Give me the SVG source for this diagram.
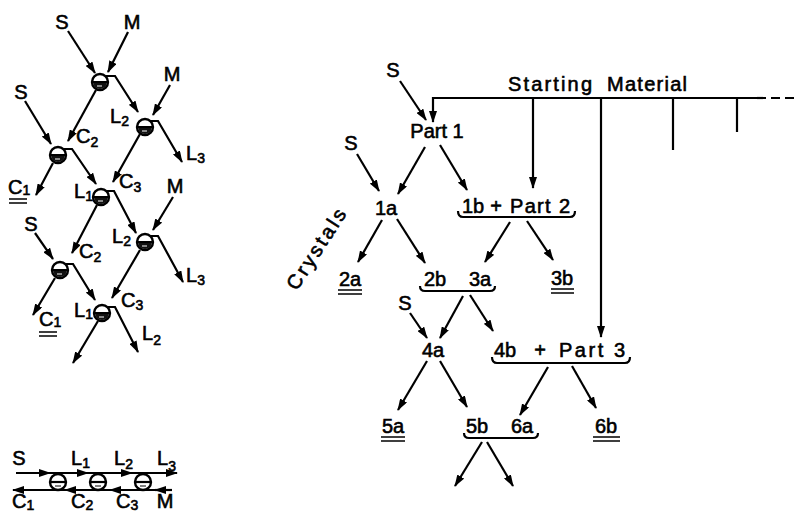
<svg xmlns="http://www.w3.org/2000/svg" width="799" height="514" viewBox="0 0 799 514">
  <defs>
    <marker id="ah" viewBox="0 0 12 8" refX="11" refY="4" markerWidth="12" markerHeight="8" markerUnits="userSpaceOnUse" orient="auto">
      <path d="M0,0 L12,4 L0,8 Z" fill="#000"/>
    </marker>
    <!-- mixer-settler stage symbol -->
    <g id="stage">
      <circle r="8" fill="#fff" stroke="#000" stroke-width="2.4"/>
      <path d="M-7,0 A7,7 0 0 0 7,0 Z" fill="#111"/>
      <line x1="-8" y1="0" x2="8" y2="0" stroke="#000" stroke-width="2"/>
      <line x1="-3" y1="4" x2="2" y2="4" stroke="#fff" stroke-width="1"/>
    </g>
    <g id="stage2">
      <circle r="8" fill="#fff" stroke="#000" stroke-width="2.4"/>
      <line x1="-8" y1="0" x2="8" y2="0" stroke="#000" stroke-width="2.2"/>
      <line x1="-3" y1="4" x2="3" y2="4" stroke="#000" stroke-width="1"/>
    </g>
  </defs>
  <style>
    text { font-family: "Liberation Sans", Arial, sans-serif; font-size: 20px; fill: #000; stroke: #000; stroke-width: 0.6; }
    .m { text-anchor: middle; }
    .sub { font-size: 14px; }
    .ln { fill: none; stroke: #000; stroke-width: 2.2; marker-end: url(#ah); }
    .pl { fill: none; stroke: #000; stroke-width: 2.2; }
    .ul { fill: none; stroke: #000; stroke-width: 1.6; }
  </style>

  <!-- left: counter-current lattice -->
  <g id="lattice-stages">
    <g id="stageA"><use href="#stage" x="100" y="82"/></g>
    <g id="stageB"><use href="#stage" x="145" y="127"/></g>
    <g id="stageC"><use href="#stage" x="58" y="155"/></g>
    <g id="stageD"><use href="#stage" x="101" y="197"/></g>
    <g id="stageE"><use href="#stage" x="145" y="242"/></g>
    <g id="stageF"><use href="#stage" x="60" y="270"/></g>
    <g id="stageG"><use href="#stage" x="102" y="313"/></g>
  </g>

  <g id="lattice-connectors">
    <path class="ln" d="M68,31 L95,73"/>
    <path class="ln" d="M128,32 L108,72"/>
    <path class="ln" d="M170,85 L153,115"/>
    <path class="ln" d="M25,101 L51,144"/>
    <path class="ln" d="M35,233 L53,259"/>
    <path class="ln" d="M173,197 L153,230"/>
    <path class="ln" d="M96,90 L68,141"/>
    <path class="ln" d="M106,76 L115,76 L138,112"/>
    <path class="ln" d="M140,134 L113,182"/>
    <path class="ln" d="M151,121 L158,121 L182,162"/>
    <path class="ln" d="M53,163 L36,195"/>
    <path class="ln" d="M64,149 L72,149 L96,184"/>
    <path class="ln" d="M97,205 L72,253"/>
    <path class="ln" d="M107,191 L114,191 L136,233"/>
    <path class="ln" d="M140,250 L112,298"/>
    <path class="ln" d="M151,236 L158,236 L183,282"/>
    <path class="ln" d="M55,278 L33,315"/>
    <path class="ln" d="M66,264 L73,264 L95,300"/>
    <path class="ln" d="M98,321 L73,363"/>
    <path class="ln" d="M108,307 L115,307 L138,352"/>
  </g>

  <g id="lattice-labels">
    <text class="m" x="62" y="29">S</text>
    <text class="m" x="132" y="29">M</text>
    <text class="m" x="172" y="81">M</text>
    <text class="m" x="21" y="99">S</text>
    <text x="76" y="143">C<tspan class="sub" dy="4">2</tspan></text>
    <text x="110" y="123">L<tspan class="sub" dy="3">2</tspan></text>
    <text x="186" y="160">L<tspan class="sub" dy="3">3</tspan></text>
    <text x="119" y="188">C<tspan class="sub" dy="4">3</tspan></text>
    <text x="74" y="198">L<tspan class="sub" dy="3">1</tspan></text>
    <text x="8" y="194">C<tspan class="sub" dy="1">1</tspan></text>
    <path class="ul" d="M9,199 H27 M9,203 H27"/>
    <text class="m" x="31" y="231">S</text>
    <text class="m" x="175" y="193">M</text>
    <text x="112" y="243">L<tspan class="sub" dy="3">2</tspan></text>
    <text x="79" y="258">C<tspan class="sub" dy="4">2</tspan></text>
    <text x="186" y="282">L<tspan class="sub" dy="3">3</tspan></text>
    <text x="121" y="307">C<tspan class="sub" dy="3">3</tspan></text>
    <text x="74" y="317">L<tspan class="sub" dy="2">1</tspan></text>
    <text x="39" y="326">C<tspan class="sub" dy="1">1</tspan></text>
    <path class="ul" d="M39,332 H57 M39,336 H57"/>
    <text x="142" y="340">L<tspan class="sub" dy="5">2</tspan></text>
  </g>

  <!-- left bottom: three-stage cascade -->
  <g id="cascade-stages">
    <g id="cs1"><use href="#stage2" x="58" y="482"/></g>
    <g id="cs2"><use href="#stage2" x="98" y="482"/></g>
    <g id="cs3"><use href="#stage2" x="143" y="482"/></g>
  </g>
  <g id="cascade-connectors">
    <path class="ln" d="M16,473 L50,473"/>
    <path class="ln" d="M50,473 L88,473"/>
    <path class="ln" d="M88,473 L132,473"/>
    <path class="ln" d="M132,473 L177,473"/>
    <path class="ln" d="M172,490 L155,490"/>
    <path class="ln" d="M155,490 L110,490"/>
    <path class="ln" d="M110,490 L65,490"/>
    <path class="ln" d="M65,490 L13,490"/>
  </g>
  <g id="cascade-labels">
    <text class="m" x="19" y="465">S</text>
    <text x="71" y="465">L<tspan class="sub" dy="3">1</tspan></text>
    <text x="114" y="465">L<tspan class="sub" dy="4">2</tspan></text>
    <text x="157" y="465">L<tspan class="sub" dy="6">3</tspan></text>
    <text x="12" y="508">C<tspan class="sub" dy="2">1</tspan></text>
    <text x="71" y="508">C<tspan class="sub" dy="2">2</tspan></text>
    <text x="116" y="508">C<tspan class="sub" dy="2">3</tspan></text>
    <text class="m" x="165" y="508">M</text>
  </g>

  <!-- right: fractional crystallization scheme -->
  <g id="feed">
    <text x="508" y="91" textLength="84" lengthAdjust="spacing">Starting</text>
    <text x="607" y="91" textLength="80" lengthAdjust="spacing">Material</text>
  </g>
  <g id="part1"><text class="m" x="437" y="138">Part 1</text></g>
  <g id="n1a"><text class="m" x="386" y="215">1a</text></g>
  <g id="n1b">
    <text x="462" y="213">1b</text>
    <text class="m" x="496" y="213">+</text>
    <text x="510" y="213" textLength="60" lengthAdjust="spacing">Part 2</text>
    <path class="pl" d="M458,211 Q458,217 463,217 L570,217 Q575,217 575,211"/>
  </g>
  <g id="n2a">
    <text class="m" x="350" y="286">2a</text>
    <path class="ul" d="M338,290 H362 M338,294 H362"/>
  </g>
  <g id="n2b3a">
    <text class="m" x="435" y="286">2b</text>
    <text class="m" x="480" y="286">3a</text>
    <path class="pl" d="M420,286 Q420,291 425,291 L490,291 Q495,291 495,286"/>
  </g>
  <g id="n3b">
    <text class="m" x="562" y="285">3b</text>
    <path class="ul" d="M551,289 H574 M551,293 H574"/>
  </g>
  <g id="crystals"><text class="m" transform="translate(316,249) rotate(-57)" x="0" y="7" textLength="92" lengthAdjust="spacing">Crystals</text></g>
  <g id="n4a"><text class="m" x="433" y="357">4a</text></g>
  <g id="n4b">
    <text x="494" y="357">4b</text>
    <text class="m" x="540" y="357">+</text>
    <text x="559" y="357" textLength="66" lengthAdjust="spacing">Part 3</text>
    <path class="pl" d="M492,357 Q492,363 497,363 L625,363 Q630,363 630,357"/>
  </g>
  <g id="n5a">
    <text class="m" x="393" y="433">5a</text>
    <path class="ul" d="M381,437 H405 M381,441 H405"/>
  </g>
  <g id="n5b6a">
    <text class="m" x="477" y="433">5b</text>
    <text class="m" x="522" y="433">6a</text>
    <path class="pl" d="M464,433 Q464,438 469,438 L533,438 Q538,438 538,433"/>
  </g>
  <g id="n6b">
    <text class="m" x="606" y="433">6b</text>
    <path class="ul" d="M593,437 H620 M593,441 H620"/>
  </g>
  <g id="solvent-labels">
    <text class="m" x="393" y="77">S</text>
    <text class="m" x="351" y="150">S</text>
    <text class="m" x="405" y="310">S</text>
  </g>

  <g id="scheme-connectors">
    <path class="ln" d="M757,98 L433,98 L433,122"/>
    <path d="M757,98 L799,98" fill="none" stroke="#000" stroke-width="2.2" stroke-dasharray="9 5"/>
    <path class="ln" d="M533,98 L533,188"/>
    <path class="ln" d="M601,98 L601,337"/>
    <path class="pl" d="M673,98 L673,150"/>
    <path class="pl" d="M737,98 L737,132"/>
    <path class="ln" d="M400,81 L426,120"/>
    <path class="ln" d="M425,147 L398,194"/>
    <path class="ln" d="M440,145 L467,190"/>
    <path class="ln" d="M357,154 L379,191"/>
    <path class="ln" d="M382,220 L358,262"/>
    <path class="ln" d="M397,219 L425,263"/>
    <path class="ln" d="M510,222 L485,262"/>
    <path class="ln" d="M527,221 L553,260"/>
    <path class="ln" d="M463,296 L440,338"/>
    <path class="ln" d="M470,295 L493,331"/>
    <path class="ln" d="M410,313 L427,338"/>
    <path class="ln" d="M427,361 L398,410"/>
    <path class="ln" d="M440,361 L467,407"/>
    <path class="ln" d="M548,367 L520,415"/>
    <path class="ln" d="M572,366 L596,408"/>
    <path class="ln" d="M482,442 L455,486"/>
    <path class="ln" d="M487,442 L513,486"/>
  </g>
</svg>
